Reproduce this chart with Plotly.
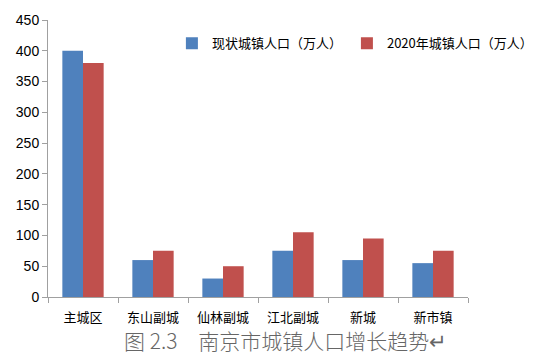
import plotly.graph_objects as go

categories = ["主城区", "东山副城", "仙林副城", "江北副城", "新城", "新市镇"]
current_pop = [400, 60, 30, 75, 60, 55]
pop_2020 = [380, 75, 50, 105, 95, 75]
series_names = ["现状城镇人口（万人）", "2020年城镇人口（万人）"]
title_text = "图 2.3　南京市城镇人口增长趋势↵"

W, H = 550, 354
ml, mr, mt, mb = 48, 34, 13, 57

fig = go.Figure()
fig.add_trace(go.Bar(x=categories, y=current_pop, name=series_names[0],
                     marker=dict(color="#4f81bd", line=dict(width=0))))
fig.add_trace(go.Bar(x=categories, y=pop_2020, name=series_names[1],
                     marker=dict(color="#c0504d", line=dict(width=0))))

ph = H - mt - mb
pw = W - ml - mr
fig.update_layout(
    width=W, height=H,
    margin=dict(l=ml, r=mr, t=mt, b=mb, pad=0),
    paper_bgcolor="white", plot_bgcolor="white",
    barmode="group", bargap=0.41, bargroupgap=0,
    font=dict(family="Liberation Sans, Noto Sans CJK SC", size=13, color="#000"),
    legend=dict(orientation="h", x=0.295, y=(H - mb - 37) / ph, xanchor="left", yanchor="middle",
                font=dict(family="Noto Sans CJK SC, Liberation Sans", size=13, color="#000"),
                itemwidth=30, bgcolor="rgba(0,0,0,0)", tracegroupgap=0),
    showlegend=True,
)
fig.update_xaxes(
    showline=True, linecolor="#a0a0a0", linewidth=1,
    ticks="outside", tickson="boundaries", ticklen=5, tickcolor="#a0a0a0",
    ticklabelstandoff=8,
    tickfont=dict(family="Noto Sans CJK SC", size=13, color="#000"),
    showgrid=False, fixedrange=True,
)
fig.update_yaxes(
    range=[0, 450], dtick=50, tick0=0,
    showline=True, linecolor="#a0a0a0", linewidth=1,
    ticks="outside", ticklen=5, tickcolor="#a0a0a0",
    tickfont=dict(family="Liberation Sans", size=14, color="#000"),
    showgrid=False, zeroline=False,
)
fig.add_annotation(
    text=title_text, xref="paper", yref="paper",
    x=(313 - ml) / pw, y=-(341 - (H - mb)) / ph,
    xanchor="center", yanchor="middle", showarrow=False,
    font=dict(family="Noto Sans CJK SC", size=21, color="#666", weight=300),
)
fig.write_html("out.html")
